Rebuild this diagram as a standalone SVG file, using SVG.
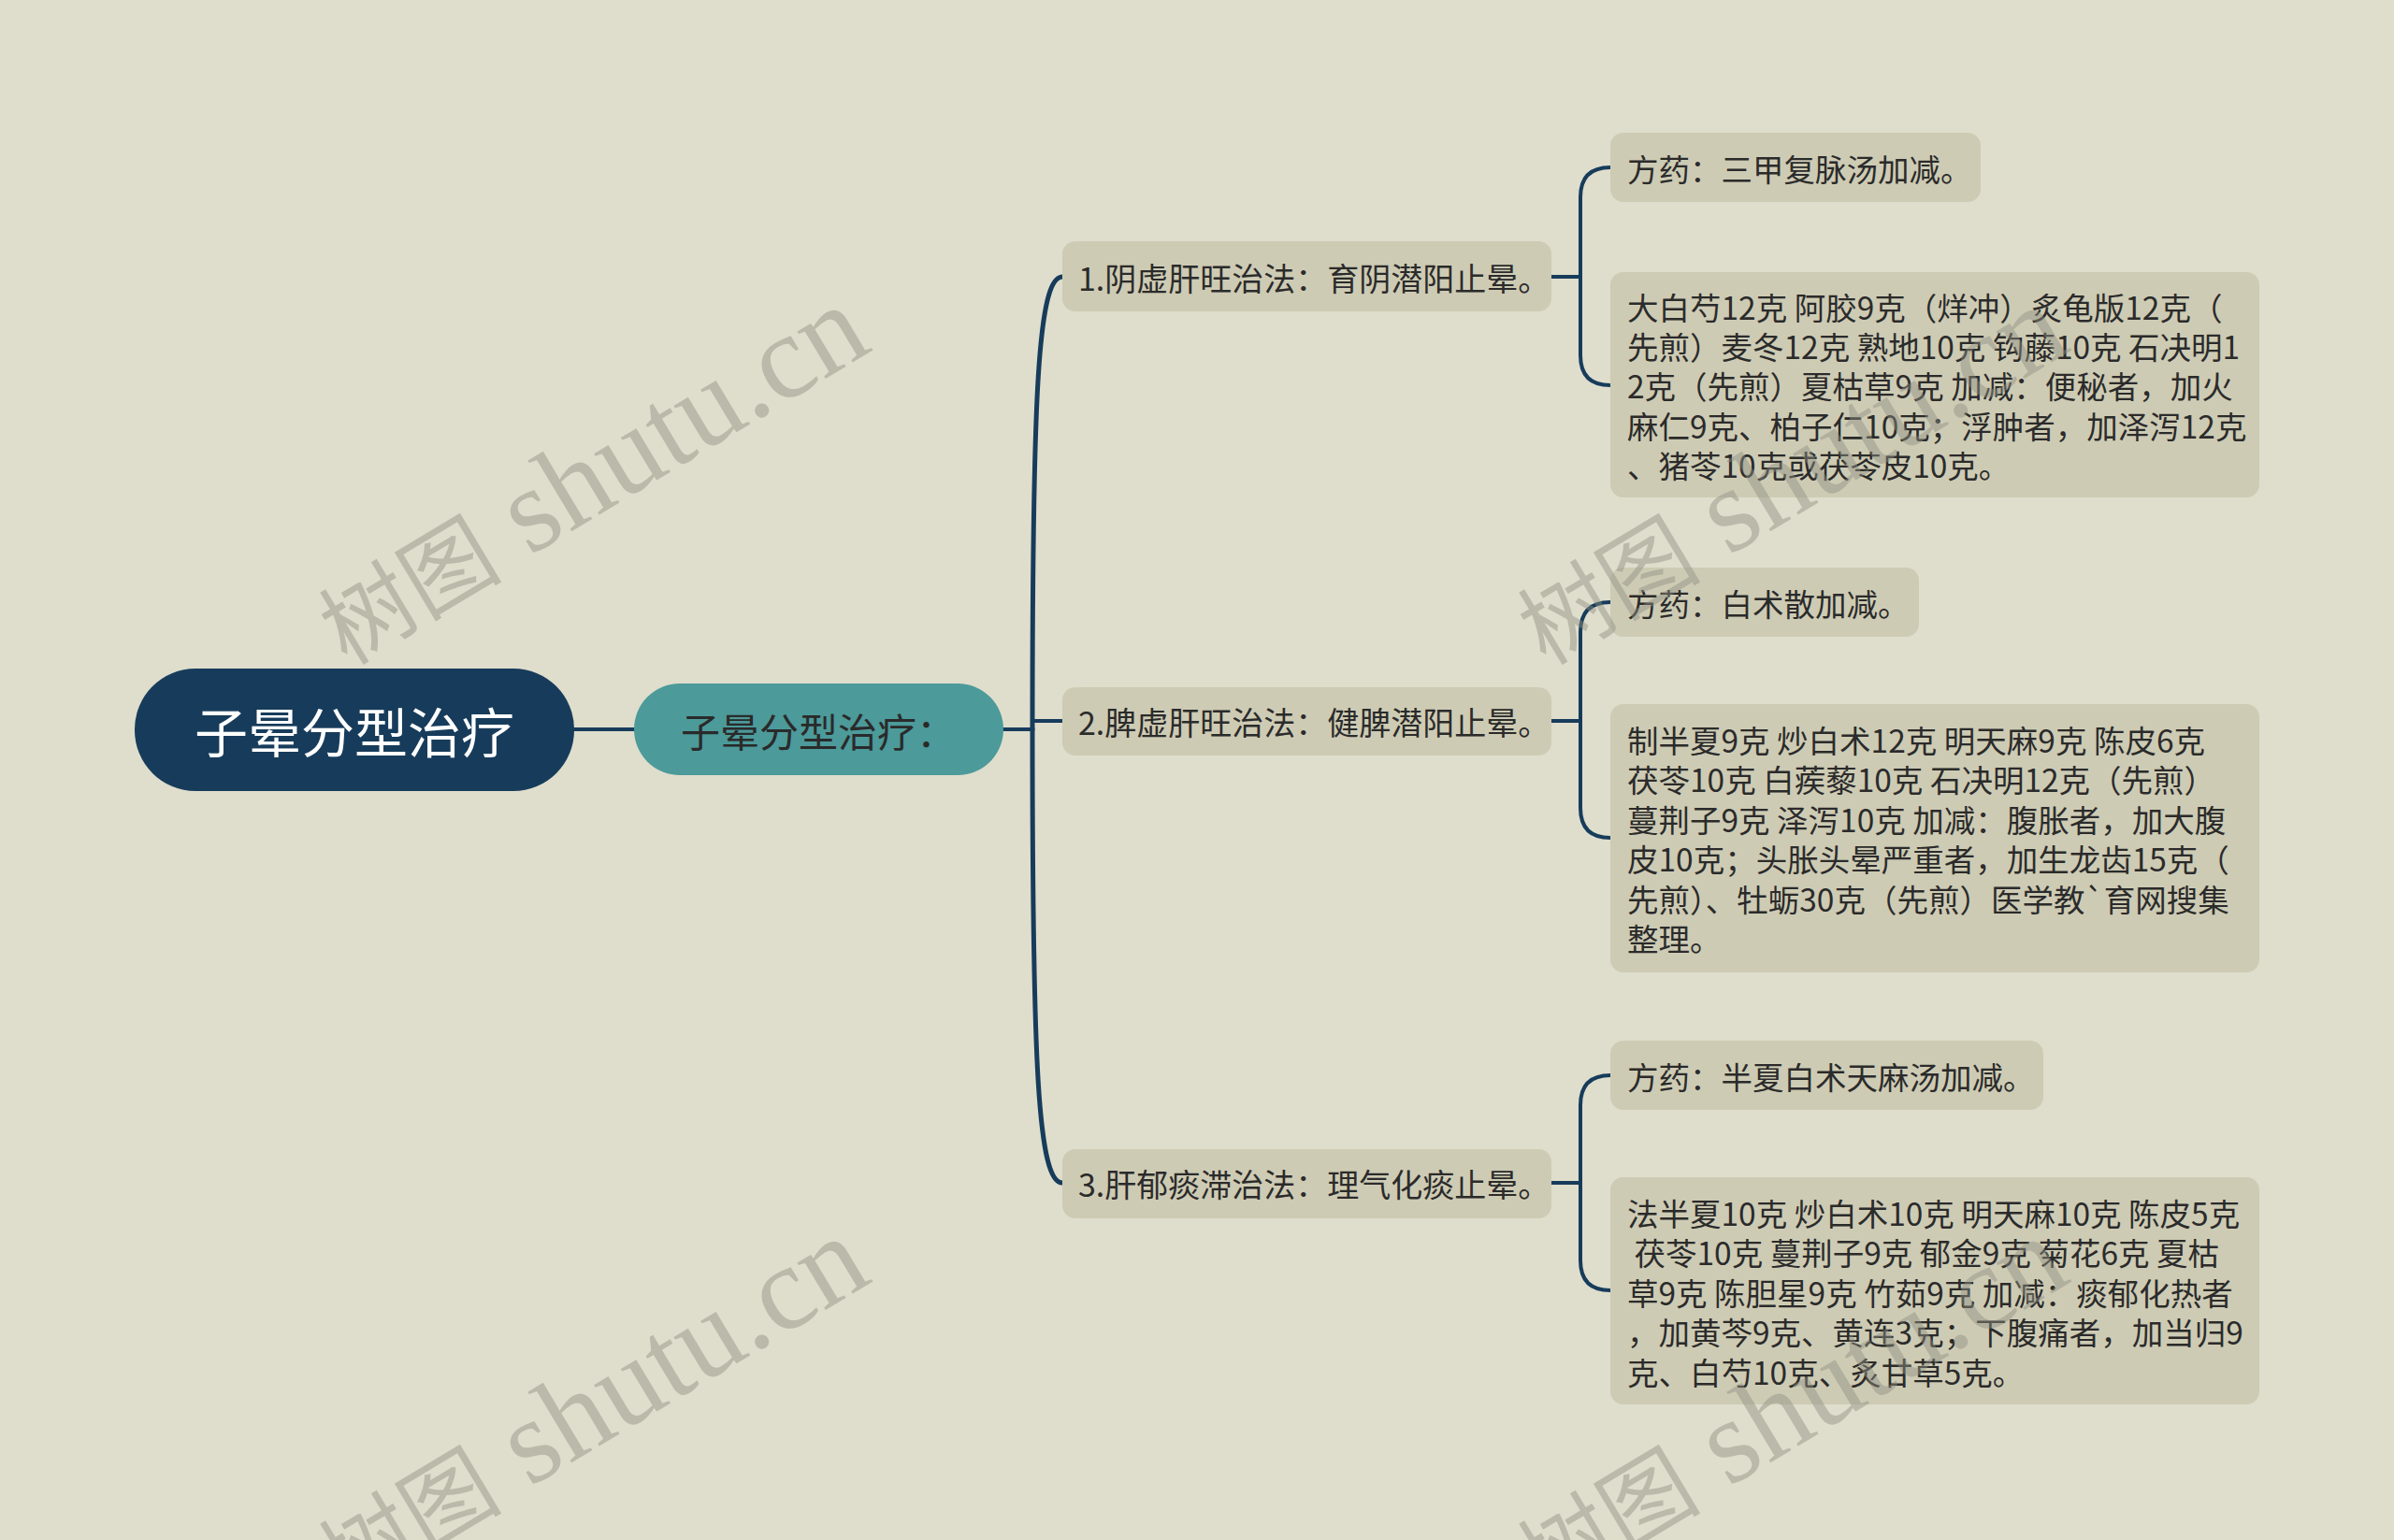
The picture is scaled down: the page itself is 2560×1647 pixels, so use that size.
<svg xmlns="http://www.w3.org/2000/svg" width="2560" height="1647" viewBox="0 0 2560 1647">
<style>
.bg{fill:#dfddcc}
.box{fill:#cecbb4}
.t2{font-family:"Noto Sans CJK SC","Noto Sans",sans-serif;font-size:34px;fill:#2b2b2b;dominant-baseline:central}
.t3{font-family:"Noto Sans CJK SC","Noto Sans",sans-serif;font-size:33.5px;fill:#2b2b2b;dominant-baseline:central;white-space:pre}
.ln{fill:none;stroke:#173c5b;stroke-width:4;stroke-linecap:round}
.trunk{fill:none;stroke:#173c5b;stroke-width:5;stroke-linecap:round}
.wm{font-family:"Liberation Serif","Noto Sans CJK SC",serif;font-size:128px;fill:#8f8f82;opacity:0.45;text-anchor:middle}
.wmc{font-family:"Noto Sans CJK SC",serif;font-size:98px}
</style>
<rect class="bg" x="0" y="0" width="2560" height="1647"/>

<g id="connectors">
  <path class="ln" d="M614 780 L678 780"/>
  <path class="ln" d="M1073 780 L1104 780"/>
  <path class="trunk" d="M1104 780 C1104 420 1110 296 1136 296"/>
  <path class="ln" d="M1104 771 L1136 771"/>
  <path class="trunk" d="M1104 780 C1104 1140 1110 1265 1136 1265"/>
  <path class="ln" d="M1659 296 H1690 M1690 296 V211 Q1690 179 1722 179 M1690 296 V380 Q1690 412 1722 412"/>
  <path class="ln" d="M1659 771 H1690 M1690 771 V676 Q1690 644 1722 644 M1690 771 V864 Q1690 896 1722 896"/>
  <path class="ln" d="M1659 1265 H1690 M1690 1265 V1182 Q1690 1150 1722 1150 M1690 1265 V1348 Q1690 1380 1722 1380"/>
</g>

<g id="root">
  <rect x="144" y="715" width="470" height="131" rx="65" fill="#173c5b"/>
  <text x="379" y="780" font-family="'Noto Sans CJK SC',sans-serif" font-size="57" fill="#ffffff" text-anchor="middle" dominant-baseline="central">子晕分型治疗</text>
</g>

<g id="main">
  <rect x="678" y="731" width="395" height="98" rx="49" fill="#4c9a9a"/>
  <text x="728" y="780" font-family="'Noto Sans CJK SC',sans-serif" font-size="42" fill="#2a2a2a" dominant-baseline="central">子晕分型治疗：</text>
</g>

<g id="n1">
  <rect class="box" x="1136" y="258" width="523" height="75" rx="14"/>
  <text class="t2" x="1153" y="296">1.阴虚肝旺治法：育阴潜阳止晕。</text>
</g>
<g id="n2">
  <rect class="box" x="1136" y="735" width="523" height="73" rx="14"/>
  <text class="t2" x="1153" y="771">2.脾虚肝旺治法：健脾潜阳止晕。</text>
</g>
<g id="n3">
  <rect class="box" x="1136" y="1229" width="523" height="74" rx="14"/>
  <text class="t2" x="1153" y="1265">3.肝郁痰滞治法：理气化痰止晕。</text>
</g>

<g id="n1a">
  <rect class="box" x="1722" y="142" width="396" height="74" rx="14"/>
  <text class="t3" x="1740" y="179">方药：三甲复脉汤加减。</text>
</g>
<g id="n1b">
  <rect class="box" x="1722" y="291" width="694" height="241" rx="14"/>
  <text class="t3" x="1740" y="327">
    <tspan x="1740" y="327">大白芍12克 阿胶9克（烊冲）炙龟版12克（</tspan>
    <tspan x="1740" y="369">先煎）麦冬12克 熟地10克 钩藤10克 石决明1</tspan>
    <tspan x="1740" y="411">2克（先煎）夏枯草9克 加减：便秘者，加火</tspan>
    <tspan x="1740" y="454">麻仁9克、柏子仁10克；浮肿者，加泽泻12克</tspan>
    <tspan x="1740" y="496">、猪苓10克或茯苓皮10克。</tspan>
  </text>
</g>

<g id="n2a">
  <rect class="box" x="1722" y="607" width="330" height="74" rx="14"/>
  <text class="t3" x="1740" y="644">方药：白术散加减。</text>
</g>
<g id="n2b">
  <rect class="box" x="1722" y="753" width="694" height="287" rx="14"/>
  <text class="t3" x="1740" y="790">
    <tspan x="1740" y="790">制半夏9克 炒白术12克 明天麻9克 陈皮6克</tspan>
    <tspan x="1740" y="832">茯苓10克 白蒺藜10克 石决明12克（先煎）</tspan>
    <tspan x="1740" y="875">蔓荆子9克 泽泻10克 加减：腹胀者，加大腹</tspan>
    <tspan x="1740" y="917">皮10克；头胀头晕严重者，加生龙齿15克（</tspan>
    <tspan x="1740" y="960">先煎）、牡蛎30克（先煎）医学教`育网搜集</tspan>
    <tspan x="1740" y="1002">整理。</tspan>
  </text>
</g>

<g id="n3a">
  <rect class="box" x="1722" y="1113" width="463" height="74" rx="14"/>
  <text class="t3" x="1740" y="1150">方药：半夏白术天麻汤加减。</text>
</g>
<g id="n3b">
  <rect class="box" x="1722" y="1259" width="694" height="243" rx="14"/>
  <text class="t3" x="1740" y="1296">
    <tspan x="1740" y="1296">法半夏10克 炒白术10克 明天麻10克 陈皮5克</tspan>
    <tspan x="1740" y="1338"> 茯苓10克 蔓荆子9克 郁金9克 菊花6克 夏枯</tspan>
    <tspan x="1740" y="1381">草9克 陈胆星9克 竹茹9克 加减：痰郁化热者</tspan>
    <tspan x="1740" y="1423">，加黄芩9克、黄连3克；下腹痛者，加当归9</tspan>
    <tspan x="1740" y="1466">克、白芍10克、炙甘草5克。</tspan>
  </text>
</g>

<g id="watermarks">
  <text class="wm" transform="translate(653 543) rotate(-31)" x="0" y="0"><tspan class="wmc">树图</tspan> shutu.cn</text>
  <text class="wm" transform="translate(653 1539) rotate(-31)" x="0" y="0"><tspan class="wmc">树图</tspan> shutu.cn</text>
  <text class="wm" transform="translate(1935 543) rotate(-31)" x="0" y="0"><tspan class="wmc">树图</tspan> shutu.cn</text>
  <text class="wm" transform="translate(1935 1539) rotate(-31)" x="0" y="0"><tspan class="wmc">树图</tspan> shutu.cn</text>
</g>
</svg>
